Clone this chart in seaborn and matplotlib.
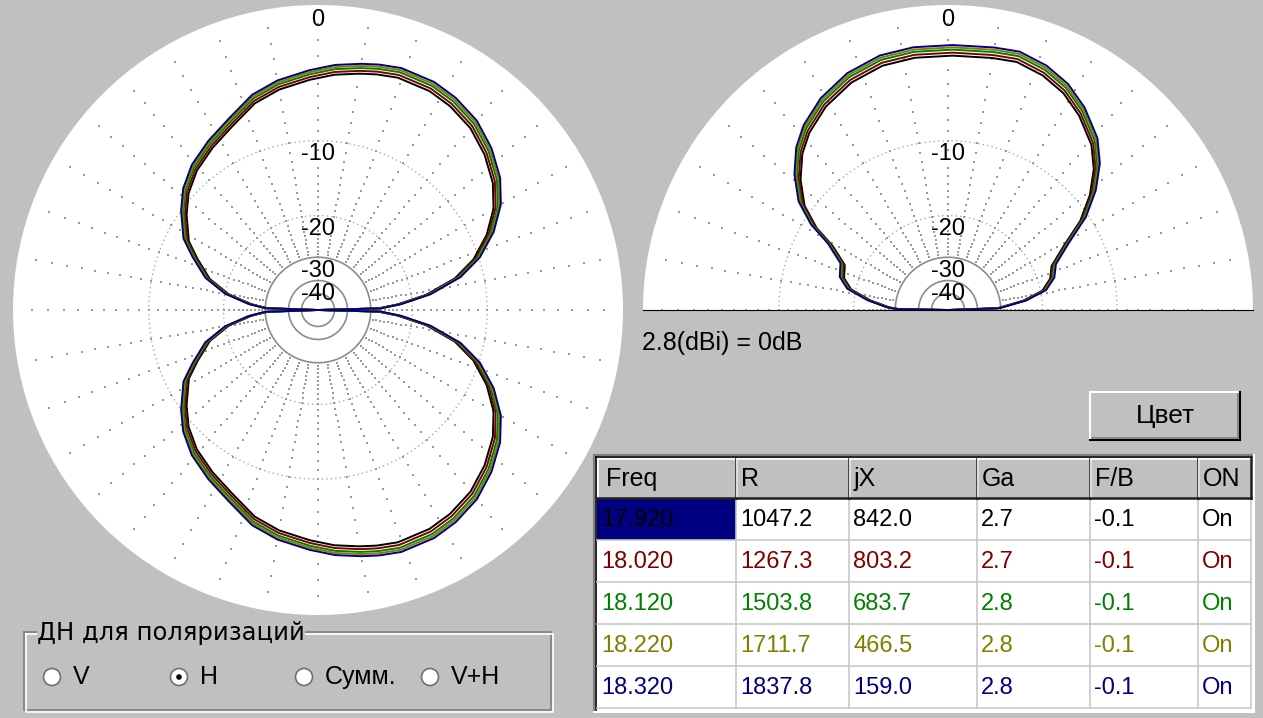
import numpy as np
import pandas as pd
import matplotlib
matplotlib.use("Agg")
import matplotlib.pyplot as plt
import seaborn as sns
from matplotlib.patches import Rectangle, Circle

# ---------------- data ----------------
FREQ_LABELS = ["17.920", "18.020", "18.120", "18.220", "18.320"]
R_VALUES = ["1047.2", "1267.3", "1503.8", "1711.7", "1837.8"]
JX_VALUES = ["842.0", "803.2", "683.7", "466.5", "159.0"]
GA_VALUES = ["2.7", "2.7", "2.8", "2.8", "2.8"]
FB_VALUES = ["-0.1", "-0.1", "-0.1", "-0.1", "-0.1"]
ON_VALUES = ["On", "On", "On", "On", "On"]
TABLE_HEADERS = ["Freq", "R", "jX", "Ga", "F/B", "ON"]
SERIES_COLORS = ["#000000", "#800000", "#008000", "#808000", "#000080"]
# level of each frequency's curve relative to the 18.320 curve (dB)
SERIES_SHIFT_DB = [-0.7, -0.5, -0.3, -0.15, 0.0]

# azimuth pattern, upper lobe (deg clockwise from top), lower lobe is its mirror
AZ_ANGLE = [-90, -88, -85, -80, -74, -67, -62, -54, -48, -41, -33, -25, -17, -10,
            -2, 4, 10, 14, 19, 27, 33, 40, 47, 54, 60, 66, 72, 77, 82, 86, 88.5, 90]
AZ_DB = [-100, -29.9, -25.2, -20.0, -16.3, -13.7, -11.8, -10.0, -8.8, -7.8, -7.0, -6.2,
         -5.1, -4.5, -4.0, -3.6, -3.3, -3.1, -2.9, -2.9, -3.1, -3.5, -4.2, -5.1, -6.2,
         -7.8, -9.9, -12.5, -16.8, -22.2, -27.0, -100]

# elevation pattern (deg from right horizon)
EL_ANGLE = [0, 2, 7, 11.5, 17, 23, 29, 34, 39, 44, 49, 56, 62, 68, 74.5, 80, 89, 97.5,
            105, 113, 121, 128, 133, 138.5, 144, 148, 151, 156.5, 163, 168, 173, 177.5,
            179, 180]
EL_DB = [-100, -30.4, -23.1, -19.0, -17.2, -16.3, -13.5, -10.3, -8.0, -6.2, -4.9, -3.7,
         -2.9, -2.4, -2.1, -2.2, -2.3, -2.3, -2.4, -2.8, -3.5, -4.4, -5.3, -6.7, -8.5,
         -10.8, -13.6, -16.3, -16.9, -18.5, -22.6, -27.5, -30.6, -100]

RING_LABELS = ["0", "-10", "-20", "-30", "-40"]
RING_LABEL_DB = [0, -10, -20, -30, -40]
GAIN_NOTE = "2.8(dBi) = 0dB"

FONT = ["Liberation Sans", "DejaVu Sans"]
WIDE_FONT = ["DejaVu Sans"]
GRID_C = "#9a9a9a"
RING_C = "#8c8c8c"
BG = "#C0C0C0"
FS = 17


def to_r(db):
    return np.power(0.89, -np.asarray(db, dtype=float) / 2.0)


def pattern_frame(angles, dbs):
    frames = []
    base = np.asarray(dbs, dtype=float)
    for lab, shift in zip(FREQ_LABELS, SERIES_SHIFT_DB):
        db = np.where(base <= -90, base, base + shift)
        frames.append(pd.DataFrame({"theta": np.deg2rad(angles), "r": to_r(db),
                                    "freq": lab}))
    return pd.concat(frames, ignore_index=True)


def style_polar(ax, rmax):
    ax.set_facecolor("white")
    ax.grid(False)
    ax.set_xticks([])
    ax.set_yticks([])
    for s in ax.spines.values():
        s.set_visible(False)
    ax.set_xlabel("")
    ax.set_ylabel("")
    ax.set_ylim(0, rmax)


def draw_grid(ax, th0, th1, radial_end):
    thetas = np.deg2rad(np.arange(th0, radial_end + 1, 10))
    steps = np.arange(-1, -30, -1)
    T, D = np.meshgrid(thetas, steps)
    dots = pd.DataFrame({"t": T.ravel(), "r": to_r(D.ravel())})
    sns.scatterplot(data=dots, x="t", y="r", ax=ax, marker="s", s=1.1,
                    color=GRID_C, linewidth=0, legend=False, zorder=1)
    tt = np.linspace(np.deg2rad(th0), np.deg2rad(th1), 721)
    for db in (-10, -20):
        ax.plot(tt, np.full_like(tt, to_r(db)), color=GRID_C, lw=0.9,
                ls=(0, (1, 2.6)), zorder=1)
    for db in (-30, -40, -50):
        ax.plot(tt, np.full_like(tt, to_r(db)), color=RING_C, lw=1.2, zorder=1)


fig = plt.figure(figsize=(12.63, 7.18), dpi=100, facecolor=BG)
plt.rcParams["font.family"] = FONT

# ---------------- UI overlay (pixel coordinates) ----------------
ui = fig.add_axes([0, 0, 1, 1])
ui.set_xlim(0, 1263)
ui.set_ylim(718, 0)
ui.axis("off")
ui.set_zorder(0)

RMAX = 305.0 / 303.0
palette = dict(zip(FREQ_LABELS, SERIES_COLORS))

# ---------------- azimuth plot ----------------
axL = fig.add_axes([13 / 1263, 103 / 718, 610 / 1263, 610 / 718], projection="polar")
axL.set_zorder(1)
axL.set_theta_zero_location("N")
axL.set_theta_direction(-1)
draw_grid(axL, 0, 360, 350)
az_angles = AZ_ANGLE + [180 - a for a in AZ_ANGLE[::-1]]
az_dbs = AZ_DB + AZ_DB[::-1]
sns.lineplot(data=pattern_frame(az_angles, az_dbs), x="theta", y="r", hue="freq",
             hue_order=FREQ_LABELS, palette=palette, sort=False, estimator=None,
             lw=1.4, legend=False, ax=axL, zorder=3)
for lab, db in zip(RING_LABELS, RING_LABEL_DB):
    axL.text(0, to_r(db) - 0.008, lab, ha="center", va="top", fontsize=FS,
             family=FONT, zorder=4)
style_polar(axL, RMAX)

# ---------------- elevation plot ----------------
# square box 610x610 centred on the half-disc centre line; the wedge fills its width
cy = 157.5
axR = fig.add_axes([643 / 1263, (718 - cy - 305) / 718, 610 / 1263, 610 / 718],
                   projection="polar")
axR.set_zorder(1)
axR.set_theta_zero_location("E")
axR.set_theta_direction(1)
draw_grid(axR, 0, 180, 180)
sns.lineplot(data=pattern_frame(EL_ANGLE, EL_DB), x="theta", y="r", hue="freq",
             hue_order=FREQ_LABELS, palette=palette, sort=False, estimator=None,
             lw=1.4, legend=False, ax=axR, zorder=3)
for lab, db in zip(RING_LABELS, RING_LABEL_DB):
    axR.text(np.pi / 2, to_r(db) - 0.008, lab, ha="center", va="top", fontsize=FS,
             family=FONT, zorder=4)
style_polar(axR, RMAX)
axR.set_thetamin(0)
axR.set_thetamax(180)

ui.text(642, 343, GAIN_NOTE, ha="left", va="center", fontsize=18, family=FONT)

# ---------------- button ----------------
bx, by, bw, bh = 1090, 392, 150, 48
ui.add_patch(Rectangle((bx, by), bw, bh, fc=BG, ec="none"))
ui.plot([bx, bx + bw], [by, by], color="white", lw=1.5)
ui.plot([bx, bx], [by, by + bh], color="white", lw=1.5)
ui.plot([bx, bx + bw], [by + bh, by + bh], color="black", lw=1.5)
ui.plot([bx + bw, bx + bw], [by, by + bh], color="black", lw=1.5)
ui.plot([bx + 2, bx + bw - 2], [by + bh - 2, by + bh - 2], color="#808080", lw=1.2)
ui.plot([bx + bw - 2, bx + bw - 2], [by + 2, by + bh - 2], color="#808080", lw=1.2)
ui.text(bx + bw / 2, by + bh / 2, "Цвет", ha="center", va="center", fontsize=19,
        family=FONT)

# ---------------- table ----------------
COL_EDGES = [597, 736, 849, 977, 1090, 1198, 1251]
HEAD_TOP, HEAD_BOT, ROW_H = 458, 498, 42
TBOT = HEAD_BOT + ROW_H * 5
ui.add_patch(Rectangle((594, 455), 660, TBOT - 455 + 4, fc="white", ec="none"))
# sunken outer frame
ui.plot([594, 1254], [455, 455], color="#808080", lw=1.5)
ui.plot([594, 594], [455, TBOT + 4], color="#808080", lw=1.5)
ui.plot([594, 1254], [TBOT + 4, TBOT + 4], color="white", lw=1.5)
ui.plot([1254, 1254], [455, TBOT + 4], color="white", lw=1.5)
ui.plot([596, 1252], [457, 457], color="black", lw=1.2)
ui.plot([596, 596], [457, TBOT + 2], color="black", lw=1.2)
# highlighted first cell
ui.add_patch(Rectangle((COL_EDGES[0], HEAD_BOT + 1), COL_EDGES[1] - COL_EDGES[0],
                       ROW_H - 1, fc="#000080", ec="none"))
# data grid
for i in range(1, 6):
    y = HEAD_BOT + i * ROW_H
    ui.plot([COL_EDGES[0], COL_EDGES[-1]], [y, y], color="#c8c8c8", lw=1.2)
for x in COL_EDGES[1:]:
    ui.plot([x, x], [HEAD_BOT, TBOT], color="#c8c8c8", lw=1.2)
# header cells
for j, head in enumerate(TABLE_HEADERS):
    x0, x1 = COL_EDGES[j], COL_EDGES[j + 1]
    ui.add_patch(Rectangle((x0, HEAD_TOP), x1 - x0, HEAD_BOT - HEAD_TOP, fc=BG,
                           ec="none"))
    ui.plot([x0 + 1, x1 - 1], [HEAD_TOP + 1, HEAD_TOP + 1], color="white", lw=1.2)
    ui.plot([x0 + 1, x0 + 1], [HEAD_TOP + 1, HEAD_BOT - 1], color="white", lw=1.2)
    ui.plot([x0, x1], [HEAD_BOT, HEAD_BOT], color="#202020", lw=1.8)
    ui.plot([x1, x1], [HEAD_TOP, HEAD_BOT], color="#202020", lw=1.8)
    ui.text(x0 + (9 if j == 0 else 5), (HEAD_TOP + HEAD_BOT) / 2 + 1, head,
            ha="left", va="center", fontsize=18, family=FONT, clip_on=True)
columns = [FREQ_LABELS, R_VALUES, JX_VALUES, GA_VALUES, FB_VALUES, ON_VALUES]
for i in range(5):
    yc = HEAD_BOT + i * ROW_H + ROW_H / 2 + 1
    for j, col in enumerate(columns):
        ui.text(COL_EDGES[j] + 4, yc, col[i], ha="left", va="center", fontsize=FS,
                family=FONT, color=SERIES_COLORS[i])

# ---------------- polarisation group box ----------------
gx0, gy0, gx1, gy1 = 24, 632, 551, 710
for off, c in ((0, "#808080"), (1.5, "white")):
    ui.plot([gx0 + off, gx1 + off, gx1 + off, gx0 + off, gx0 + off],
            [gy0 + off, gy0 + off, gy1 + off, gy1 + off, gy0 + off], color=c, lw=1.2)
ui.text(37, gy0 + 1, "ДН для поляризаций", ha="left", va="center", fontsize=17.5,
        family=WIDE_FONT, bbox=dict(fc=BG, ec="none", pad=0.3))
RADIO_LABELS = ["V", "H", "Сумм.", "V+H"]
RADIO_X = [52, 179, 304, 430]
for k, (lab, rx) in enumerate(zip(RADIO_LABELS, RADIO_X)):
    ui.add_patch(Circle((rx, 677), 8.5, fc="white", ec="#707070", lw=1.2))
    if lab == "H":
        ui.add_patch(Circle((rx, 677), 2.8, fc="black", ec="none"))
    ui.text(rx + 21, 677, lab, ha="left", va="center", fontsize=18, family=FONT)

fig.savefig("out.png", dpi=100, facecolor=BG)
